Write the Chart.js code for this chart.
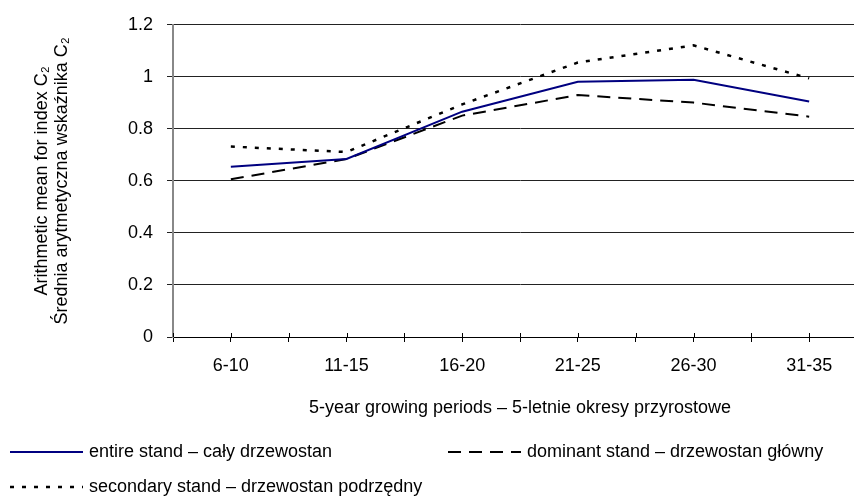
<!DOCTYPE html>
<html>
<head>
<meta charset="utf-8">
<script src="https://cdn.jsdelivr.net/npm/chart.js@4.4.1/dist/chart.umd.min.js"></script>
<style>
html, body { margin: 0; padding: 0; background: #fff; overflow: hidden; }
#wrap { width: 854px; height: 500px; overflow: hidden; }
</style>
</head>
<body>
<div id="wrap"><canvas id="chart" width="880" height="500"></canvas></div>
<script>
// data
const periods = ['6-10', '11-15', '16-20', '21-25', '26-30', '31-35'];
const entireStand = [0.654, 0.684, 0.866, 0.981, 0.989, 0.905];
const dominantStand = [0.606, 0.684, 0.851, 0.930, 0.901, 0.847];
const secondaryStand = [0.732, 0.711, 0.894, 1.055, 1.121, 0.994];
const yTicks = [0, 0.2, 0.4, 0.6, 0.8, 1, 1.2];
const seriesNames = [
    'entire stand – cały drzewostan',
    'dominant stand – drzewostan główny',
    'secondary stand – drzewostan podrzędny'
];

const FONT = '"Liberation Sans", Arial, sans-serif';

const toPoints = arr => arr.map((v, i) => ({ x: i, y: v }));

// legend laid out like the original (two columns, second row on the left)
const legendSpots = [[10, 452], [448, 452], [10, 487]];
const legendRows = {
    id: 'legendRows',
    afterDraw(chart) {
        const ctx = chart.ctx;
        chart.data.datasets.forEach((ds, i) => {
            const [x, y] = legendSpots[i];
            ctx.save();
            ctx.strokeStyle = ds.borderColor;
            ctx.lineWidth = ds.borderWidth;
            ctx.setLineDash(ds.borderDash || []);
            ctx.beginPath();
            ctx.moveTo(x, y);
            ctx.lineTo(x + 73, y);
            ctx.stroke();
            ctx.setLineDash([]);
            ctx.fillStyle = '#000';
            ctx.font = '18px ' + FONT;
            ctx.textBaseline = 'middle';
            ctx.fillText(ds.label, x + 79, y);
            ctx.restore();
        });
    }
};

// x tick marks in the original cross the axis line, extend them upwards a bit
const crossTicks = {
    id: 'crossTicks',
    afterDraw(chart) {
        const ctx = chart.ctx;
        const xs = chart.scales.x;
        const bottom = chart.chartArea.bottom;
        ctx.save();
        ctx.strokeStyle = '#000';
        ctx.lineWidth = 1;
        xs.ticks.forEach(t => {
            const px = Math.round(xs.getPixelForValue(t.value)) + 0.5;
            ctx.beginPath();
            ctx.moveTo(px, bottom - 4);
            ctx.lineTo(px, bottom);
            ctx.stroke();
        });
        ctx.restore();
    }
};

const data = {
    datasets: [
        {
            label: seriesNames[0],
            data: toPoints(entireStand),
            borderColor: '#000080',
            borderWidth: 2,
            pointRadius: 0,
            tension: 0,
        },
        {
            label: seriesNames[1],
            data: toPoints(dominantStand),
            borderColor: '#000',
            borderWidth: 2,
            borderDash: [13, 8],
            pointRadius: 0,
            tension: 0,
        },
        {
            label: seriesNames[2],
            data: toPoints(secondaryStand),
            borderColor: '#000',
            borderWidth: 2.5,
            borderDash: [4, 8],
            pointRadius: 0,
            tension: 0,
        },
    ],
};

const config = {
    type: 'line',
    data: data,
    plugins: [legendRows, crossTicks],
    options: {
        responsive: false,
        animation: false,
        layout: { padding: { top: 12, right: 11, left: 0, bottom: 0 } },
        scales: {
            x: {
                type: 'linear',
                min: -0.5,
                max: periods.length - 0.5,
                afterBuildTicks: scale => {
                    const t = [];
                    for (let v = -0.5; v <= scale.max + 1e-9; v += 0.5) t.push({ value: v });
                    scale.ticks = t;
                },
                afterFit: scale => { scale.height = 163; },
                ticks: {
                    autoSkip: false,
                    maxRotation: 0,
                    color: '#000',
                    padding: 13,
                    font: { size: 18, family: FONT },
                    callback: v => Number.isInteger(v) ? periods[v] : '',
                },
                grid: { drawOnChartArea: false, drawTicks: true, tickLength: 5, color: '#000' },
                border: { color: '#000', width: 1 },
                title: {
                    display: true,
                    text: '5-year growing periods – 5-letnie okresy przyrostowe',
                    color: '#000',
                    font: { size: 18, family: FONT },
                    padding: { top: 0, bottom: 81 },
                },
            },
            y: {
                min: 0,
                max: 1.2,
                afterBuildTicks: scale => { scale.ticks = yTicks.map(v => ({ value: v })); },
                afterFit: scale => { scale.width = 173; },
                ticks: {
                    color: '#000',
                    padding: 14,
                    font: { size: 18, family: FONT },
                    callback: v => String(v),
                },
                grid: { color: '#222', lineWidth: 1, tickLength: 6 },
                border: { color: '#888', width: 2 },
                title: {
                    display: true,
                    text: ['Arithmetic mean for index C₂', 'Średnia arytmetyczna wskaźnika C₂'],
                    color: '#000',
                    font: { size: 18, family: FONT, lineHeight: 1.11 },
                    padding: { top: 32, bottom: 0 },
                },
            },
        },
        plugins: {
            legend: { display: false },
            tooltip: { enabled: false },
        },
    },
};

new Chart(document.getElementById('chart'), config);
</script>
</body>
</html>
